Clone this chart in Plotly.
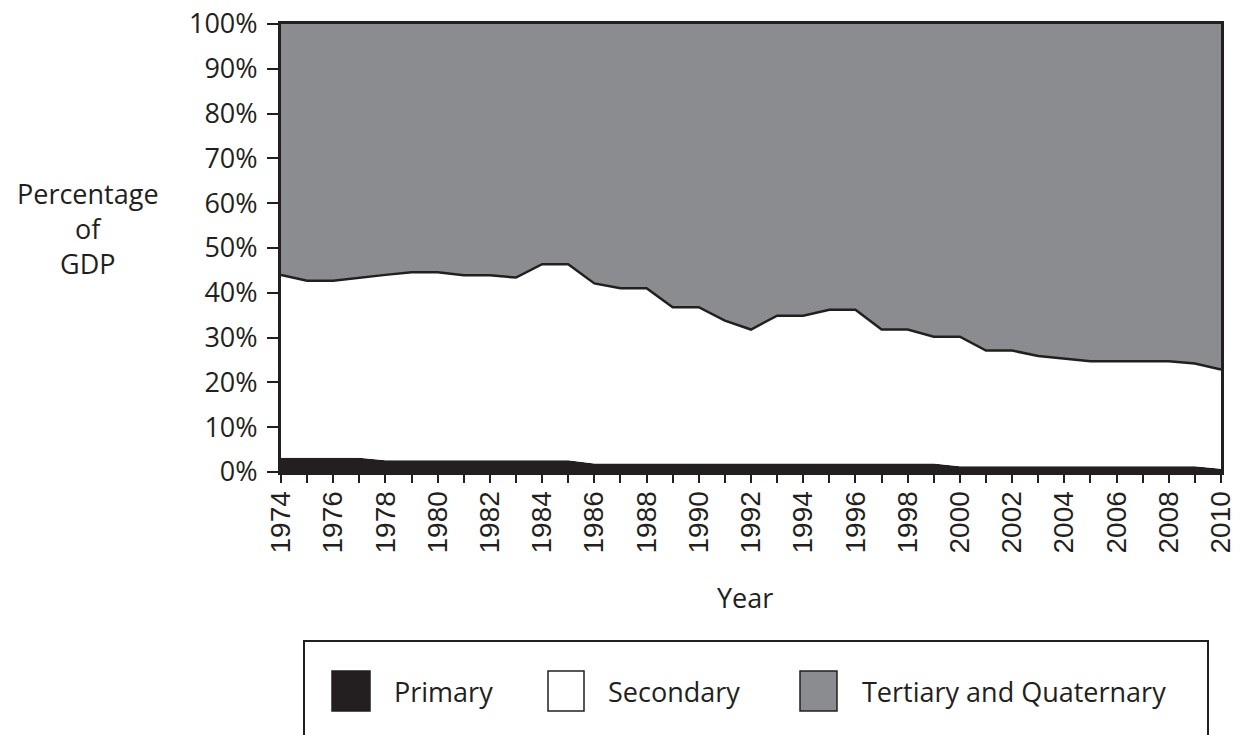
import plotly.graph_objects as go

years = list(range(1974, 2011))
primary = [3.2, 3.2, 3.2, 3.2, 2.6, 2.6, 2.6, 2.6, 2.6, 2.6, 2.6, 2.6,
           1.9, 1.9, 1.9, 1.9, 1.9, 1.9, 1.9, 1.9, 1.9, 1.9, 1.9, 1.9, 1.9, 1.9,
           1.3, 1.3, 1.3, 1.3, 1.3, 1.3, 1.3, 1.3, 1.3, 1.3, 0.7]
secondary = [40.8, 39.5, 39.5, 40.2, 41.4, 42.0, 42.0, 41.3, 41.3, 40.8, 43.8, 43.8,
             40.2, 39.1, 39.1, 34.9, 34.9, 31.9, 29.9, 33.0, 33.0, 34.3, 34.3, 29.9,
             29.9, 28.3, 28.9, 25.8, 25.8, 24.6, 24.0, 23.4, 23.4, 23.4, 23.4, 22.9, 22.2]
tertiary = [100 - p - s for p, s in zip(primary, secondary)]

series_names = ["Primary", "Secondary", "Tertiary and Quaternary"]
series_colors = ["#231f20", "#ffffff", "#8b8c90"]

INK = "#231f20"
TXT = "Open Sans"

fig = go.Figure()
fig.add_trace(go.Scatter(x=years, y=primary, name=series_names[0], stackgroup="one",
                         mode="lines", line=dict(color=INK, width=0),
                         fillcolor=series_colors[0]))
fig.add_trace(go.Scatter(x=years, y=secondary, name=series_names[1], stackgroup="one",
                         mode="lines", line=dict(color=INK, width=2.5),
                         fillcolor=series_colors[1]))
fig.add_trace(go.Scatter(x=years, y=tertiary, name=series_names[2], stackgroup="one",
                         mode="lines", line=dict(color=INK, width=0),
                         fillcolor=series_colors[2]))

W, H = 1241, 735
L, R, T, B = 281, 20, 24, 263
pw, ph = W - L - R, H - T - B


def px(x):
    return (x - L) / pw


def py(y):
    return (H - B - y) / ph


shapes = []
annotations = []
# legend box (open at bottom, extends beyond page)
shapes.append(dict(type="rect", xref="paper", yref="paper",
                   x0=px(304), x1=px(1208), y0=py(641), y1=py(800),
                   line=dict(color=INK, width=2), fillcolor="rgba(0,0,0,0)"))
sq_x = [(332, 370), (548, 584), (800, 837)]
txt_x = [392, 606, 860]
for (a, b), tx, name, col in zip(sq_x, txt_x, series_names, series_colors):
    shapes.append(dict(type="rect", xref="paper", yref="paper",
                       x0=px(a), x1=px(b), y0=py(711), y1=py(671),
                       line=dict(color=INK, width=1.5), fillcolor=col))
    annotations.append(dict(text=name, xref="paper", yref="paper", x=px(tx), y=py(691),
                            xanchor="left", yanchor="middle", showarrow=False,
                            font=dict(family=TXT, size=27, color=INK)))

annotations.append(dict(text="Percentage<br>of<br>GDP", xref="paper", yref="paper",
                        x=px(88), y=py(228), xanchor="center", yanchor="middle",
                        showarrow=False, align="center",
                        font=dict(family=TXT, size=27, color=INK)))
annotations.append(dict(text="Year", xref="paper", yref="paper",
                        x=px(745), y=py(597), xanchor="center", yanchor="middle",
                        showarrow=False, font=dict(family=TXT, size=27, color=INK)))

fig.update_layout(
    width=W, height=H,
    margin=dict(l=L, r=R, t=T, b=B, pad=0, autoexpand=False),
    paper_bgcolor="white", plot_bgcolor="white",
    showlegend=False,
    shapes=shapes, annotations=annotations,
    xaxis=dict(range=[1974, 2010], tickmode="linear", tick0=1974, dtick=2,
               tickangle=-90, ticks="outside", ticklen=8, tickwidth=2, tickcolor=INK,
               minor=dict(ticks="outside", dtick=1, ticklen=8, tickwidth=2, tickcolor=INK),
               showline=True, linecolor=INK, linewidth=3, mirror=True,
               showgrid=False, zeroline=False, automargin=False,
               ticklabelstandoff=-3, ticklabeloverflow="allow",
               tickfont=dict(family="Liberation Sans", size=28, color=INK)),
    yaxis=dict(range=[0, 100], tickmode="linear", tick0=0, dtick=10, ticksuffix="%",
               ticks="outside", ticklen=11, tickwidth=2, tickcolor=INK,
               showline=True, linecolor=INK, linewidth=3, mirror=True,
               showgrid=False, zeroline=False, automargin=False,
               ticklabelstandoff=4, ticklabeloverflow="allow",
               tickfont=dict(family=TXT, size=27, color=INK)),
)

fig.write_html("out.html", config={"displayModeBar": False},
               post_script="document.body.style.margin='0';document.body.style.padding='0';")
